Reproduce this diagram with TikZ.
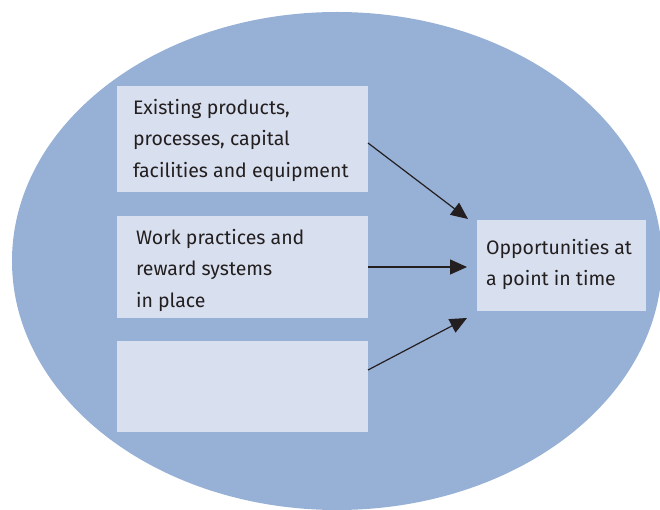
\documentclass[tikz,border=0pt]{standalone}
\usepackage{fontspec}
\setmainfont{Fira Sans}
\usetikzlibrary{positioning,arrows.meta}
\definecolor{ovalblue}{HTML}{97B0D5}
\definecolor{boxgrey}{HTML}{D8DFEE}
\definecolor{inkdark}{HTML}{231F20}
\tikzset{
	panel/.style={fill=boxgrey,draw=none,inner sep=0pt,minimum width=251pt},
	label/.style={anchor=west,align=left,inner sep=0pt,text=inkdark,
		font=\fontsize{19.5}{31.5}\selectfont},
	feed/.style={inkdark,line width=1.2pt,-{Triangle[length=17pt,width=15pt]}}
}
\begin{document}
\begin{tikzpicture}[x=1pt,y=-1pt]
		\useasboundingbox (0,0) rectangle (660,510);
		\clip (0,0) rectangle (660,510);
		\fill[ovalblue] (337,261) ellipse [x radius=325, y radius=249];
		%
		\node[panel,minimum height=106pt] (existing) at (242.5,139) {};
		\node[label,right=16pt of existing.west,yshift=-1pt] (existingtxt) {Existing products,\\processes, capital\\facilities and equipment};
		%
		\node[panel,minimum height=102pt] (practices) at (242.5,267) {};
		\node[label,right=19pt of practices.west,yshift=-3pt] (practicestxt) {Work practices and\\reward systems\\in place};
		%
		\node[panel,minimum height=91pt] (blank) at (242.5,386.5) {};
		%
		\node[fill=boxgrey,inner sep=0pt,minimum width=169pt,minimum height=91pt] (opportunity) at (561.5,265.5) {};
		\node[label,right=9pt of opportunity.west,yshift=1pt] (opportunitytxt) {Opportunities at\\a point in time};
		%
		\coordinate (outa) at (368,143);
		\coordinate (outb) at (368,267);
		\coordinate (outc) at (368,370);
		\coordinate (ina) at (468,219);
		\coordinate (inb) at (467,267);
		\coordinate (inc) at (467,318);
		\draw[feed] (outa) -- (ina);
		\draw[feed] (outb) -- (inb);
		\draw[feed] (outc) -- (inc);
	\end{tikzpicture}
\end{document}
